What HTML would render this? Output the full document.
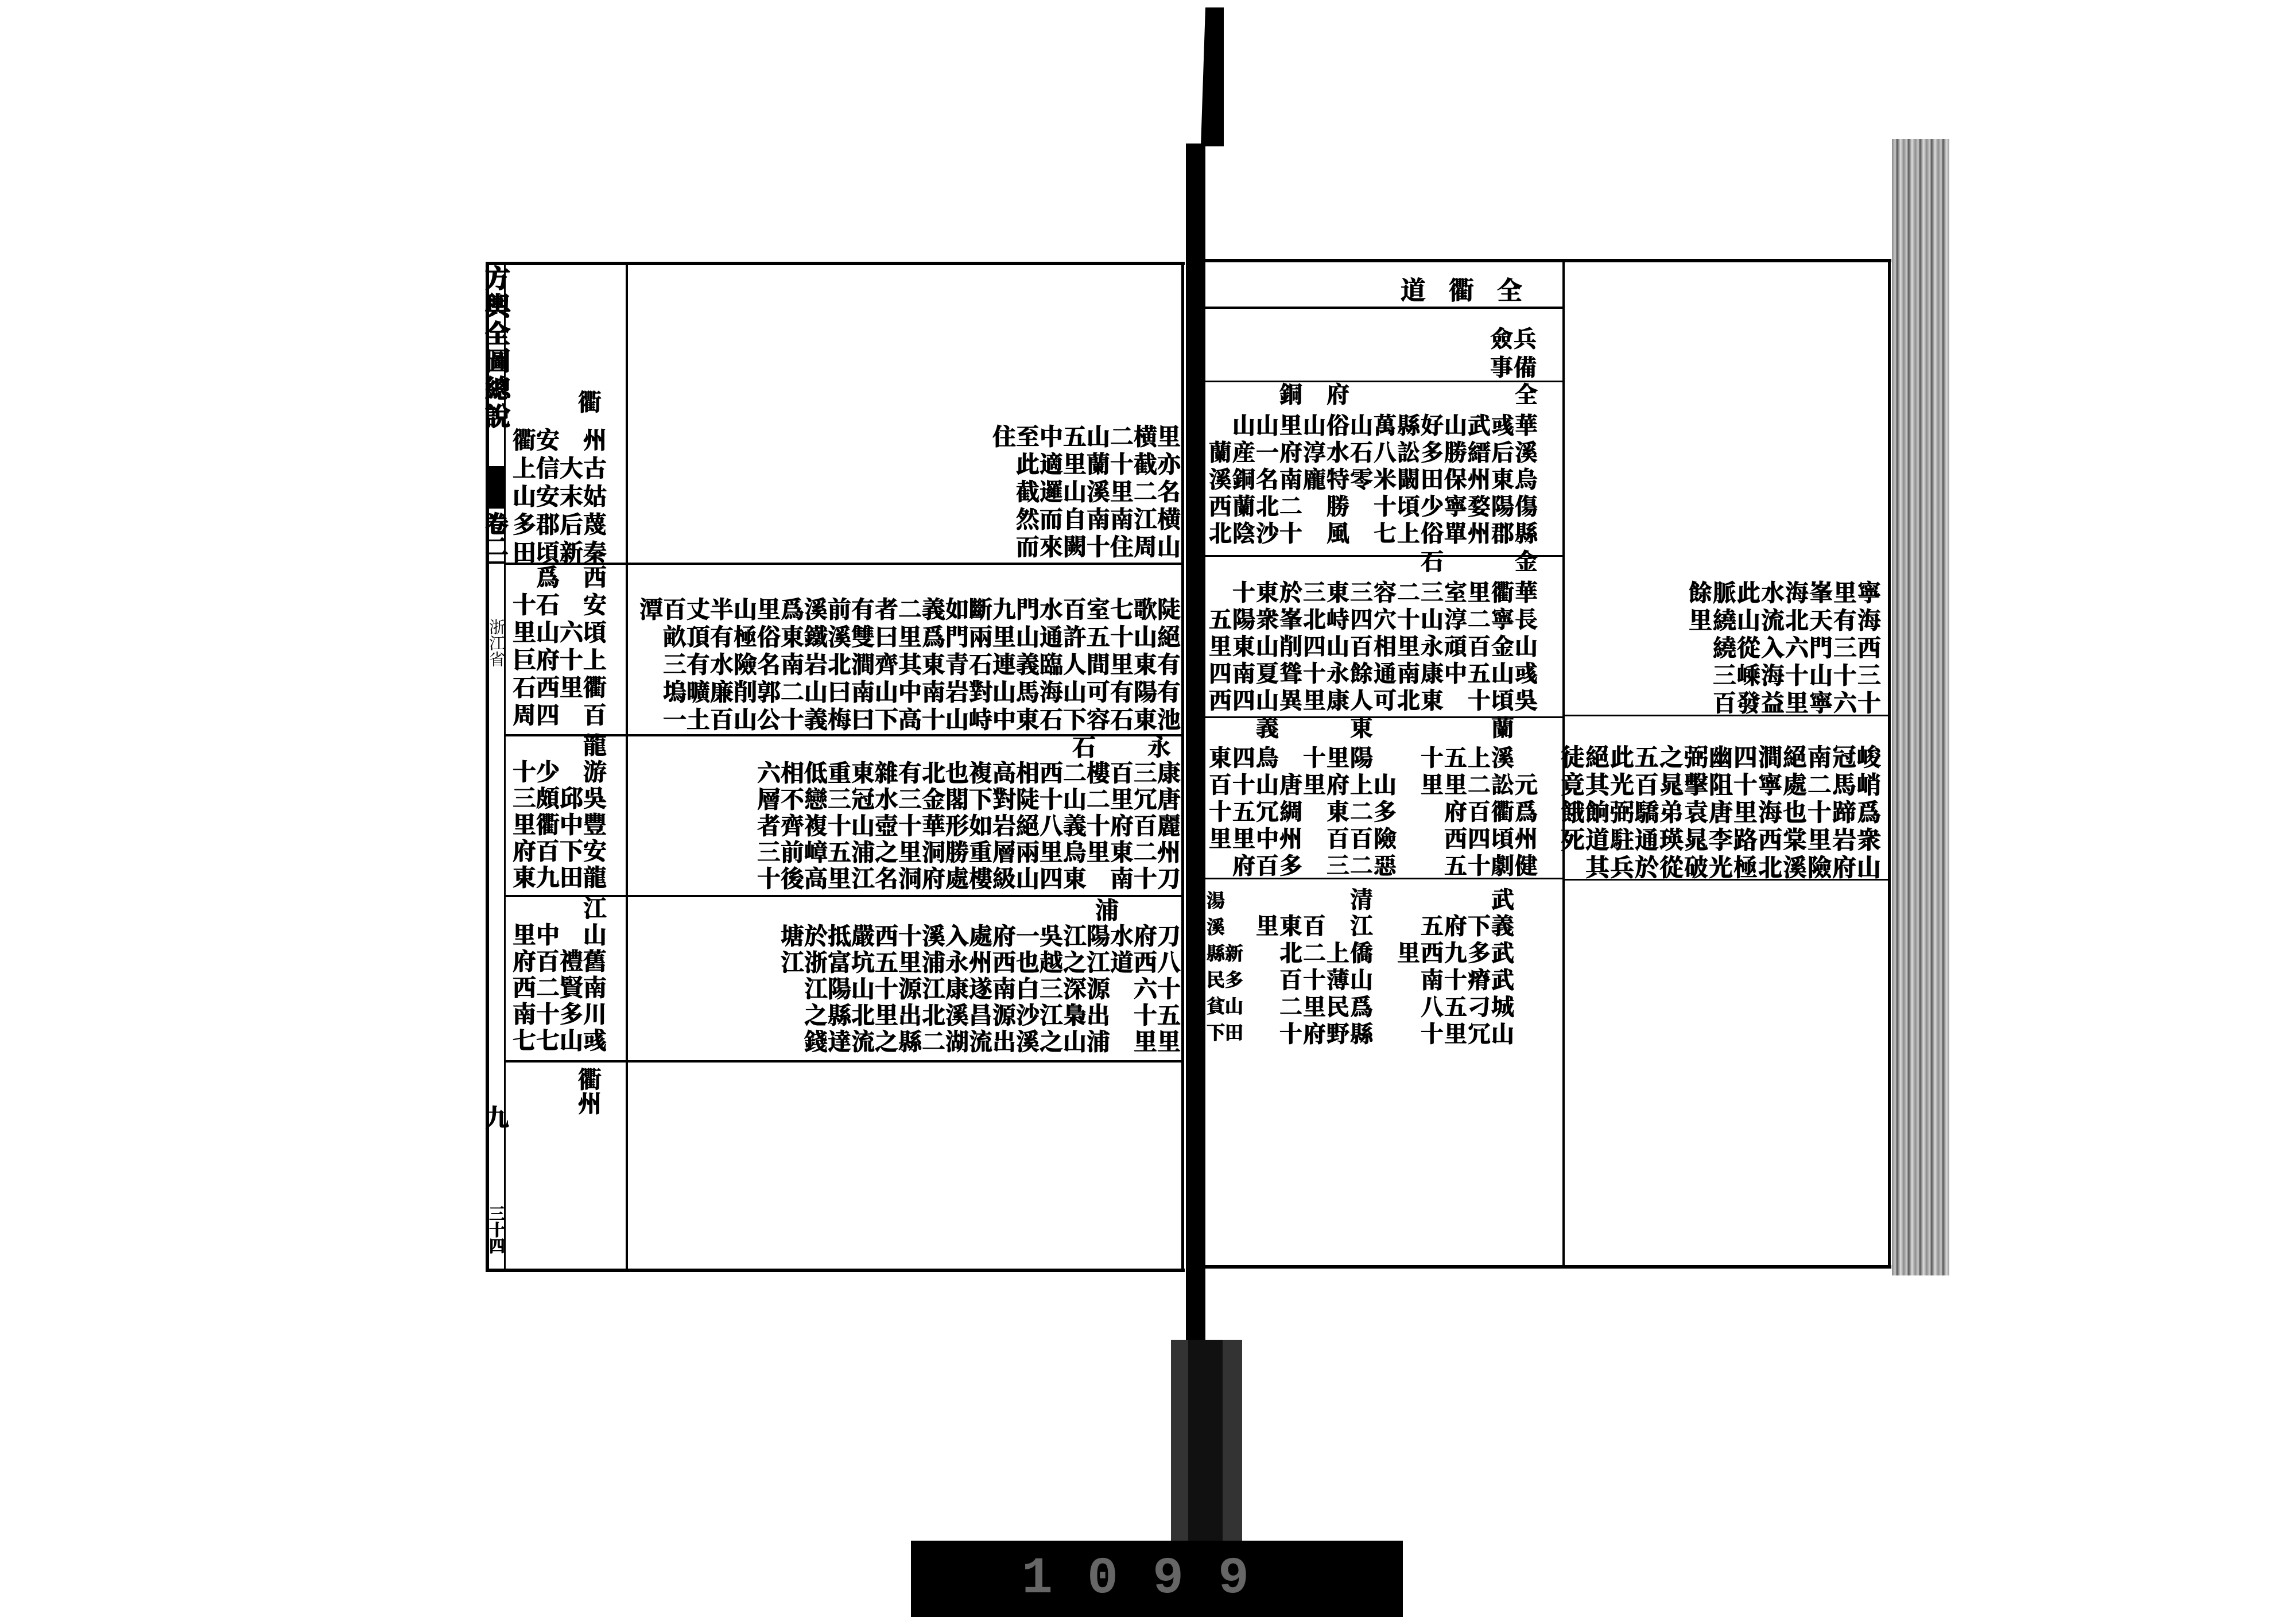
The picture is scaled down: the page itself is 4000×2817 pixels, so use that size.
<!DOCTYPE html>
<html><head><meta charset="utf-8">
<style>
html,body{margin:0;padding:0;background:#fff;}
#c{position:relative;width:4000px;height:2817px;overflow:hidden;background:#fff;}
.b{position:absolute;background:#000;}
.t{position:absolute;white-space:pre;font-family:"Liberation Serif","Noto Serif CJK SC",serif;font-weight:bold;color:#000;-webkit-text-stroke:1px #000;}
.L{font-size:41px;letter-spacing:0px;line-height:49px;}
.R{font-size:40px;letter-spacing:1px;line-height:47px;}
.ra{text-align:right;}
.v{writing-mode:vertical-rl;}
</style></head><body><div id="c">

<!-- spine -->
<svg style="position:absolute;left:0;top:0" width="4000" height="2817">
<polygon points="2100,13 2132,13 2132,255 2092,255" fill="#000"/>
</svg>
<div class="b" style="left:2066px;top:250px;width:34px;height:2090px;"></div>
<div class="b" style="left:2040px;top:2334px;width:124px;height:350px;background:#333;"></div>
<div class="b" style="left:2070px;top:2334px;width:60px;height:350px;background:#111;"></div>
<!-- bottom black bar -->
<div class="b" style="left:1587px;top:2684px;width:857px;height:133px;"></div>
<div class="t" style="left:1780px;top:2700px;font-size:90px;color:#666;-webkit-text-stroke:0;letter-spacing:60px;font-family:'Liberation Mono',monospace;">1099</div>

<!-- right page edge strip -->
<div class="b" style="left:3296px;top:242px;width:100px;height:1980px;background:repeating-linear-gradient(90deg,#888 0,#ccc 6px,#555 9px,#ddd 15px,#999 20px);"></div>

<!-- LEFT PAGE FRAME -->
<div class="b" style="left:846px;top:456px;width:1218px;height:6px;"></div>
<div class="b" style="left:846px;top:2210px;width:1218px;height:6px;"></div>
<div class="b" style="left:846px;top:456px;width:6px;height:1760px;"></div>
<div class="b" style="left:878px;top:456px;width:3px;height:1760px;"></div>
<div class="b" style="left:1090px;top:456px;width:4px;height:1760px;"></div>
<div class="b" style="left:2058px;top:456px;width:5px;height:1760px;"></div>
<div class="b" style="left:880px;top:980px;width:1180px;height:4px;"></div>
<div class="b" style="left:880px;top:1279px;width:1180px;height:4px;"></div>
<div class="b" style="left:880px;top:1559px;width:1180px;height:4px;"></div>
<div class="b" style="left:880px;top:1847px;width:1180px;height:4px;"></div>

<!-- left strip title -->
<div class="t v" style="left:842px;top:462px;font-size:44px;line-height:40px;letter-spacing:4px;-webkit-text-stroke:2px #000;">方輿全圖總說</div>
<div class="b" style="left:846px;top:812px;width:34px;height:70px;"></div>
<div class="b" style="left:846px;top:882px;width:34px;height:4px;"></div>
<div class="t v" style="left:844px;top:892px;font-size:40px;line-height:36px;-webkit-text-stroke:2px #000;">卷二</div>
<div class="b" style="left:846px;top:978px;width:34px;height:4px;"></div>
<div class="t v" style="left:848px;top:1078px;font-size:28px;line-height:30px;font-weight:normal;-webkit-text-stroke:0;">浙江省</div>
<div class="t v" style="left:844px;top:1925px;font-size:42px;line-height:36px;">九</div>
<div class="t v" style="left:848px;top:2100px;font-size:28px;line-height:30px;">三十四</div>

<!-- left label column -->
<div class="t L" style="left:1007px;top:677px;">衢</div>
<div class="t L" style="left:893px;top:743px;">衢安　州
上信大古
山安末姑
多郡后蔑
田頃新秦</div>
<div class="t L" style="left:893px;top:982px;line-height:48px;">　爲　西
十石　安
里山六頃
巨府十上
石西里衢
周四　百</div>
<div class="t L" style="left:893px;top:1276px;line-height:46px;">　　　龍
十少　游
三頗邱吳
里衢中豐
府百下安
東九田龍</div>
<div class="t L" style="left:893px;top:1560px;line-height:46px;">　　　江
里中　山
府百禮舊
西二賢南
南十多川
七七山彧</div>
<div class="t L" style="left:1007px;top:1860px;line-height:42px;">衢
州</div>

<!-- left main cells -->
<div class="t L ra" style="right:1943px;top:737px;line-height:48px;">住至中五山二横里
此適里蘭十截亦
截邏山溪里二名
然而自南南江横
而來闕十住周山</div>
<div class="t L ra" style="right:1943px;top:1038px;line-height:48px;">潭百丈半山里爲溪前有者二義如斷九門水百室七歌陡
畝頂有極俗東鐵溪雙曰里爲門兩里山通許五十山絕
三有水險名南岩北澗齊其東青石連義臨人間里東有
塢曠廉削郭二山曰南山中南岩對山馬海山可有陽有
一土百山公十義梅曰下高十山峙中東石下容石東池</div>
<div class="t L" style="left:1868px;top:1278px;">石</div>
<div class="t L" style="left:1999px;top:1278px;">永</div>
<div class="t L ra" style="right:1943px;top:1324px;line-height:46px;">六相低重東雜有北也複高相西二樓百三康
層不戀三冠水三金閣下對陡十山二里冗唐
者齊複十山壺十華形如岩絕八義十府百麗
三前嶂五浦之里洞勝重層兩里烏里東二州
十後高里江名洞府處樓級山四東　南十刀</div>
<div class="t L" style="left:1908px;top:1562px;">浦</div>
<div class="t L ra" style="right:1943px;top:1608px;line-height:46px;">塘於抵嚴西十溪入處府一吳江陽水府刀
江浙富坑五里浦永州西也越之江道西八
江陽山十源江康遂南白三深源　六十
之縣北里出北溪昌源沙江梟出　十五
錢達流之縣二湖流出溪之山浦　里里</div>

<!-- RIGHT PAGE FRAME -->
<div class="b" style="left:2095px;top:451px;width:1200px;height:6px;"></div>
<div class="b" style="left:2095px;top:2204px;width:1200px;height:6px;"></div>
<div class="b" style="left:2095px;top:451px;width:5px;height:1759px;"></div>
<div class="b" style="left:2722px;top:451px;width:4px;height:1759px;"></div>
<div class="b" style="left:3289px;top:451px;width:5px;height:1759px;"></div>
<div class="b" style="left:2097px;top:534px;width:628px;height:4px;"></div>
<div class="b" style="left:2097px;top:663px;width:628px;height:3px;"></div>
<div class="b" style="left:2097px;top:967px;width:628px;height:3px;"></div>
<div class="b" style="left:2097px;top:1248px;width:628px;height:3px;"></div>
<div class="b" style="left:2097px;top:1529px;width:628px;height:3px;"></div>
<div class="b" style="left:2725px;top:1245px;width:566px;height:3px;"></div>
<div class="b" style="left:2725px;top:1531px;width:566px;height:3px;"></div>

<!-- right header -->
<div class="t" style="left:2440px;top:470px;font-size:44px;letter-spacing:40px;">道衢全</div>
<div class="t R" style="left:2596px;top:566px;line-height:50px;">僉兵
事備</div>

<!-- cell A -->
<div class="t R" style="left:2106px;top:664px;">　　　銅　府　　　　　　　全</div>
<div class="t R ra" style="right:1320px;top:718px;">山山里山俗山萬縣好山武彧華
蘭産一府淳水石八訟多勝縉后溪
溪銅名南龐特零米闞田保州東烏
西蘭北二　勝　十頃少寧婺陽傷
北陰沙十　風　七上俗單州郡縣</div>
<!-- cell B -->
<div class="t R" style="left:2106px;top:955px;">　　　　　　　　　石　　　金</div>
<div class="t R ra" style="right:1320px;top:1009px;">十東於三東三容二三室里衢華
五陽衆峯北峙四穴十山淳二寧長
里東山削四山百相里永頑百金山
四南夏聳十永餘通南康中五山彧
西四山異里康人可北東　十頃吳</div>
<!-- cell C -->
<div class="t R" style="left:2106px;top:1245px;">　　義　　　東　　　　　蘭</div>
<div class="t R" style="left:2106px;top:1297px;">東四鳥　十里陽　　十五上溪
百十山唐里府上山　里里二訟元
十五冗綢　東二多　　府百衢爲
里里中州　百百險　　西四頃州
　府百多　三二惡　　五十劇健</div>
<!-- cell D -->
<div class="t" style="left:2102px;top:1546px;font-size:32px;line-height:46px;">湯
溪
縣新
民多
貧山
下田</div>
<div class="t R" style="left:2106px;top:1544px;">　　　　　　清　　　　　武</div>
<div class="t R" style="left:2106px;top:1590px;">　　里東百　江　　五府下義
　　　北二上僑　里西九多武
　　　百十薄山　　南十瘠武
　　　二里民爲　　八五刁城
　　　十府野縣　　十里冗山</div>

<!-- right section -->
<div class="t ra" style="right:722px;top:1009px;font-size:41px;letter-spacing:1px;line-height:48px;">餘脈此水海峯里寧
里繞山流北天有海
繞從入六門三西
三嵊海十山十三
百發益里寧六十</div>
<div class="t ra" style="right:722px;top:1297px;font-size:42px;letter-spacing:1px;line-height:48px;">徒絕此五之弼幽四澗絕南冠峻
竟其光百晁擊阻十寧處二馬峭
餓餉弼驕弟袁唐里海也十蹄爲
死道駐通瑛晁李路西棠里岩衆
其兵於從破光極北溪險府山</div>

</div></body></html>
